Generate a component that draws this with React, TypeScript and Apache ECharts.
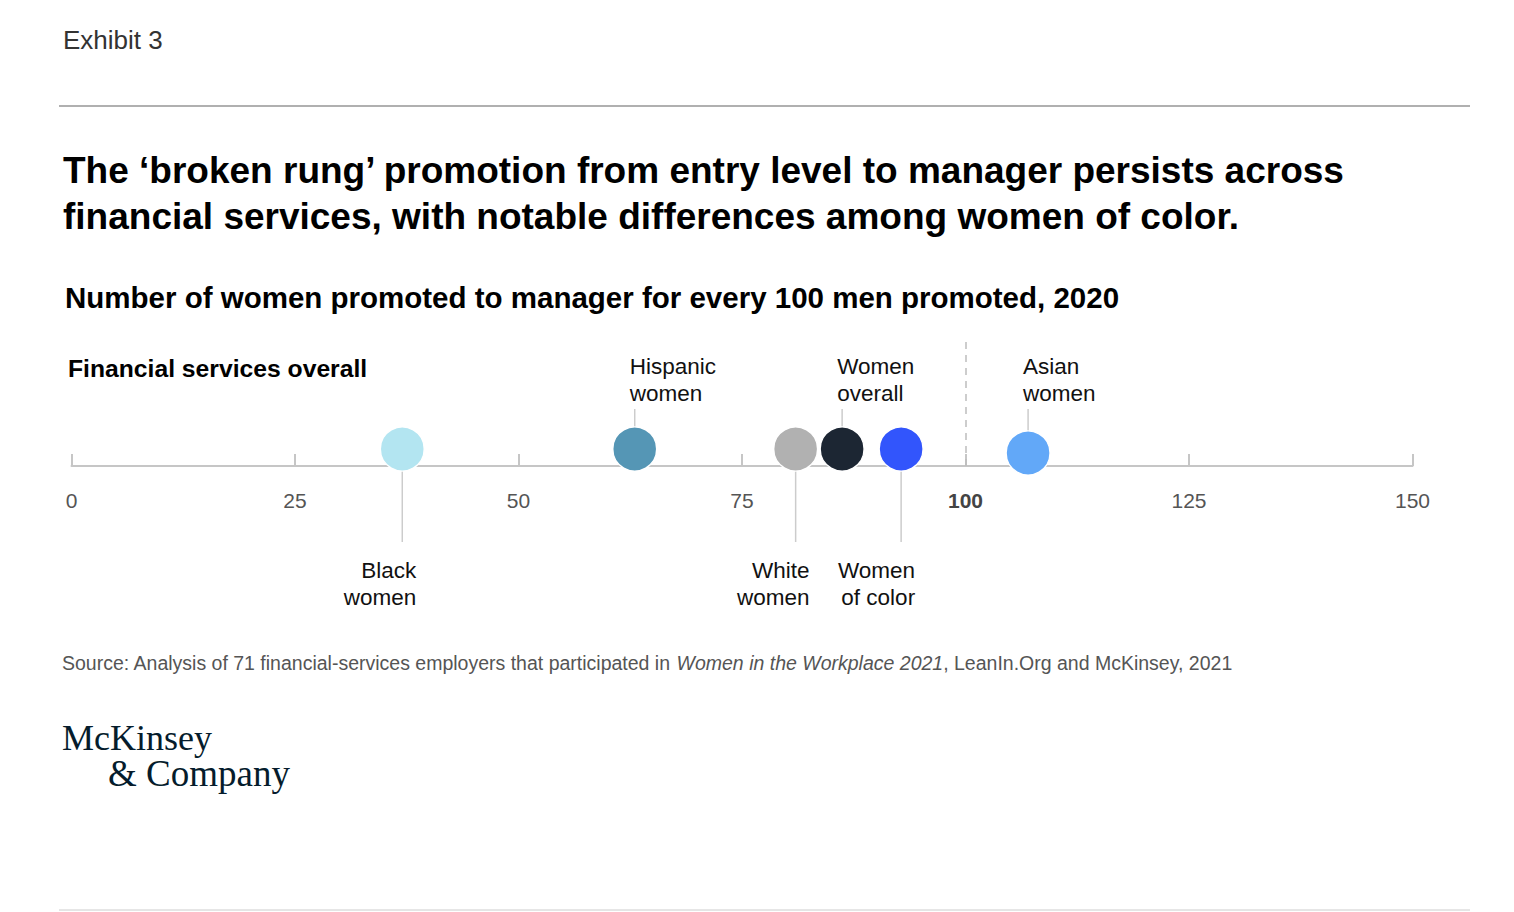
import React, { useEffect, useRef } from "react";
import * as echarts from "echarts";

const categories = ["Black women", "Hispanic women", "White women", "Women overall", "Women of color", "Asian women"];
const labelLines = [["Black", "women"], ["Hispanic", "women"], ["White", "women"], ["Women", "overall"], ["Women", "of color"], ["Asian", "women"]];
const values = [37, 63, 81, 86.2, 92.8, 107];
const labelSide = ["below", "above", "below", "above", "below", "above"];
const colors = ["#b3e5f1", "#5596b5", "#b1b1b1", "#1c2633", "#3255fc", "#62a8f8"];
const xTicks = { min: 0, max: 150, interval: 25 };
const parity = 100;

const FONT = '"Liberation Sans", Arial, sans-serif';
const SERIF = '"Liberation Serif", "Times New Roman", serif';
const R = 21.5;

export default function App() {
  const ref = useRef<HTMLDivElement>(null);
  useEffect(() => {
    if (!ref.current) return;
    const chart = echarts.init(ref.current, undefined, { renderer: "svg" });
    const offsets = values.map((_, i) => (i === 5 ? -13 : -17));
    const option: any = {
      animation: false,
      backgroundColor: "#ffffff",
      textStyle: { fontFamily: FONT },
      grid: { left: 71.5, right: 101.5, top: 336, bottom: 446 },
      xAxis: {
        type: "value",
        min: xTicks.min,
        max: xTicks.max,
        interval: xTicks.interval,
        splitLine: { show: false },
        axisLine: { show: true, lineStyle: { color: "#c6c6c6", width: 2 } },
        axisTick: { show: true, inside: true, length: 12, lineStyle: { color: "#c6c6c6", width: 2 } },
        axisLabel: {
          margin: 24,
          fontSize: 21,
          color: "#555",
          fontFamily: FONT,
          formatter: (v: number) => (v === parity ? "{b|" + v + "}" : "{n|" + v + "}"),
          rich: {
            n: { fontSize: 21, color: "#555", fontFamily: FONT },
            b: { fontSize: 21, color: "#444", fontWeight: "bold", fontFamily: FONT },
          },
        },
      },
      yAxis: { type: "value", min: 0, max: 1, show: false },
      series: [
        {
          type: "custom",
          z: 1,
          silent: true,
          data: values.map((v, i) => [v, i]),
          renderItem: (params: any, api: any) => {
            const idx = api.value(1);
            const p = api.coord([api.value(0), 0]);
            const x = p[0];
            const y0 = p[1];
            const cy = y0 + offsets[idx];
            const above = labelSide[idx] === "above";
            const lineStyle = { stroke: "#cccccc", lineWidth: 1.5 };
            const textStyle = {
              text: labelLines[idx].join("\n"),
              fill: "#111",
              fontSize: 22.5,
              fontFamily: FONT,
              lineHeight: 27,
            };
            if (above) {
              return {
                type: "group",
                children: [
                  { type: "line", shape: { x1: x, y1: y0 - 57, x2: x, y2: cy - R }, style: lineStyle },
                  {
                    type: "text",
                    x: x - 5,
                    y: y0 - 59,
                    style: { ...textStyle, align: "left", verticalAlign: "bottom" },
                  },
                ],
              };
            }
            return {
              type: "group",
              children: [
                { type: "line", shape: { x1: x, y1: cy + R, x2: x, y2: y0 + 76 }, style: lineStyle },
                {
                  type: "text",
                  x: x + 14,
                  y: y0 + 91,
                  style: { ...textStyle, align: "right", verticalAlign: "top" },
                },
              ],
            };
          },
        },
        {
          type: "scatter",
          z: 3,
          symbolSize: 44,
          data: values.map((v, i) => ({
            name: categories[i],
            value: [v, 0],
            symbolOffset: [0, offsets[i]],
            itemStyle: { color: colors[i], borderColor: "#ffffff", borderWidth: 1.5, opacity: 1 },
          })),
          markLine: {
            silent: true,
            symbol: "none",
            label: { show: false },
            lineStyle: { color: "#bdbdbd", type: [7, 6], width: 1.5 },
            data: [{ xAxis: parity }],
          },
        },
      ],
      graphic: [
        { type: "text", left: 63, top: 27, style: { text: "Exhibit 3", fontSize: 26, fill: "#333", fontFamily: FONT } },
        { type: "line", shape: { x1: 59, y1: 106, x2: 1470, y2: 106 }, style: { stroke: "#b0b0b0", lineWidth: 2 } },
        {
          type: "text",
          left: 63,
          top: 147,
          style: {
            text: "The \u2018broken rung\u2019 promotion from entry level to manager persists across\nfinancial services, with notable differences among women of color.",
            fontSize: 37,
            fontWeight: "bold",
            lineHeight: 46,
            fill: "#000",
            fontFamily: FONT,
          },
        },
        {
          type: "text",
          left: 65,
          top: 282,
          style: {
            text: "Number of women promoted to manager for every 100 men promoted, 2020",
            fontSize: 29.5,
            fontWeight: "bold",
            fill: "#000",
            fontFamily: FONT,
          },
        },
        {
          type: "text",
          left: 68,
          top: 356,
          style: { text: "Financial services overall", fontSize: 24.7, fontWeight: "bold", fill: "#000", fontFamily: FONT },
        },
        {
          type: "text",
          left: 62,
          top: 653,
          style: {
            text: "{a|Source: Analysis of 71 financial-services employers that participated in }{i|Women in the Workplace 2021}{a|, LeanIn.Org and McKinsey, 2021}",
            fill: "#555",
            rich: {
              a: { fontSize: 19.5, fill: "#555", fontFamily: FONT },
              i: { fontSize: 19.5, fill: "#555", fontStyle: "italic", fontFamily: FONT },
            },
          },
        },
        {
          type: "text",
          left: 62,
          top: 720,
          style: { text: "McKinsey", fontSize: 36, fill: "#051c2c", fontFamily: SERIF },
        },
        {
          type: "text",
          left: 108,
          top: 755,
          style: { text: "& Company", fontSize: 37, fill: "#051c2c", fontFamily: SERIF },
        },
        { type: "line", shape: { x1: 59, y1: 910, x2: 1470, y2: 910 }, style: { stroke: "#cccccc", lineWidth: 1 } },
      ],
    };
    chart.setOption(option);
    return () => chart.dispose();
  }, []);
  return <div ref={ref} style={{ position: "absolute", left: 0, top: 0, width: 1514, height: 912 }} />;
}
